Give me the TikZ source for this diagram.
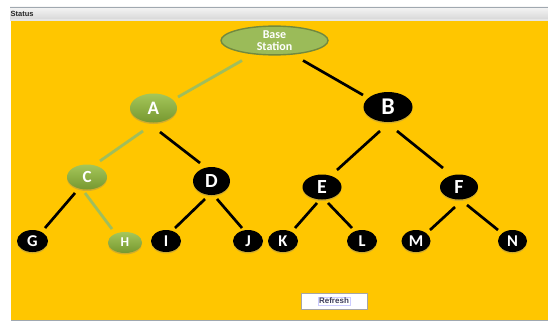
\documentclass[tikz,border=0pt]{standalone}
\usepackage{fontspec}
\setmainfont{Carlito}
\newfontfamily\uifont{Liberation Sans}
\usetikzlibrary{shapes.geometric,shadows,calc}
\definecolor{bgyellow}{RGB}{255,198,0}
\definecolor{gnode}{RGB}{155,187,89}
\definecolor{gnodetop}{RGB}{165,198,90}
\definecolor{gnodebot}{RGB}{118,152,48}
\definecolor{gborder}{RGB}{113,137,63}
\definecolor{gedge}{RGB}{160,190,92}
\definecolor{barline}{RGB}{160,168,176}
\tikzset{
  gnodestyle/.style={ellipse, inner sep=0pt, top color=gnodetop, bottom color=gnodebot,
     text=white, font=\bfseries, drop shadow={shadow xshift=0pt, shadow yshift=-1.5pt, opacity=0.35}},
  bnodestyle/.style={ellipse, inner sep=0pt, fill=black, text=white, font=\bfseries,
     drop shadow={shadow xshift=0pt, shadow yshift=-1.5pt, opacity=0.35}},
  bedge/.style={line width=2.7pt, black, line cap=butt},
  gedgestyle/.style={line width=2.8pt, gedge, line cap=butt},
}
\begin{document}
\begin{tikzpicture}[x=1pt,y=-1pt]
\useasboundingbox (0,0) rectangle (548,321);
\fill[white] (0,0) rectangle (548,321);
% status bar
\shade[top color=white!96!black, bottom color=white!84!black] (10,7) rectangle (548,20);
\draw[barline, line width=1pt] (10,7.5) -- (548,7.5);
\fill[white!90!black] (10,19.5) rectangle (548,21);
\node[anchor=west, inner sep=0pt, font=\uifont\bfseries\fontsize{7.5}{8}\selectfont, text=black!85] (status) at (10.5,13.5) {Status};
% yellow panel
\fill[bgyellow] (11,21) rectangle (548,319.5);
\fill[barline] (11,319.5) rectangle (548,321);

% nodes
\node[ellipse, inner sep=0pt, minimum width=107pt, minimum height=26pt, fill=gnode, draw=gborder, line width=1.4pt,
      text=white, font=\bfseries\fontsize{12}{12.5}\selectfont, align=center] (base) at (274.5,40.5) {Base\\Station};
\node[gnodestyle, minimum width=47pt, minimum height=29pt, font=\bfseries\fontsize{19}{19}\selectfont] (A) at (153.5,108) {A};
\node[bnodestyle, minimum width=49pt, minimum height=30pt, font=\bfseries\fontsize{24}{24}\selectfont] (B) at (388,107) {B};
\node[gnodestyle, minimum width=40pt, minimum height=25pt, font=\bfseries\fontsize{17}{17}\selectfont] (C) at (87,177) {C};
\node[bnodestyle, minimum width=37pt, minimum height=28pt, font=\bfseries\fontsize{20}{20}\selectfont] (D) at (211.5,181) {D};
\node[bnodestyle, minimum width=39pt, minimum height=25pt, font=\bfseries\fontsize{20}{20}\selectfont] (E) at (322,187) {E};
\node[bnodestyle, minimum width=38pt, minimum height=25pt, font=\bfseries\fontsize{20}{20}\selectfont] (F) at (459,187) {F};
\node[bnodestyle, minimum width=31pt, minimum height=22pt, font=\bfseries\fontsize{16.5}{16.5}\selectfont] (G) at (32.5,241) {G};
\node[gnodestyle, minimum width=34pt, minimum height=21pt, font=\bfseries\fontsize{13.5}{13.5}\selectfont] (H) at (125,242.5) {H};
\node[bnodestyle, minimum width=30pt, minimum height=22pt, font=\bfseries\fontsize{16.5}{16.5}\selectfont] (I) at (166,241) {I};
\node[bnodestyle, minimum width=30pt, minimum height=22pt, font=\bfseries\fontsize{16.5}{16.5}\selectfont] (J) at (248,241) {J};
\node[bnodestyle, minimum width=30pt, minimum height=22pt, font=\bfseries\fontsize{16.5}{16.5}\selectfont] (K) at (283,241) {K};
\node[bnodestyle, minimum width=30pt, minimum height=22pt, font=\bfseries\fontsize{16.5}{16.5}\selectfont] (L) at (362,241) {L};
\node[bnodestyle, minimum width=29pt, minimum height=22pt, font=\bfseries\fontsize{16.5}{16.5}\selectfont] (M) at (416,241) {M};
\node[bnodestyle, minimum width=29pt, minimum height=22pt, font=\bfseries\fontsize{16.5}{16.5}\selectfont] (N) at (512.5,241) {N};

% connectors
\draw[gedgestyle] ($(base)+(-32.5,20)$) -- ($(A)+(24.5,-11)$);
\draw[bedge] ($(base)+(28.5,20)$) -- ($(B)+(-25,-12)$);
\draw[gedgestyle] ($(A)+(-10.5,23)$) -- ($(C)+(13,-16)$);
\draw[bedge] ($(A)+(6.5,24)$) -- ($(D)+(-11.5,-18)$);
\draw[bedge] ($(B)+(-8,24)$) -- ($(E)+(15,-17)$);
\draw[bedge] ($(B)+(9,24)$) -- ($(F)+(-16,-19)$);
\draw[bedge] ($(C)+(-12,16)$) -- ($(G)+(12.5,-13)$);
\draw[gedgestyle] ($(C)+(-2,16)$) -- ($(H)+(-13,-13.5)$);
\draw[bedge] ($(D)+(-6.5,18)$) -- ($(I)+(9,-13)$);
\draw[bedge] ($(D)+(5.5,18)$) -- ($(J)+(-6,-13)$);
\draw[bedge] ($(E)+(-5,16)$) -- ($(K)+(12,-13)$);
\draw[bedge] ($(E)+(6,16)$) -- ($(L)+(-10,-13)$);
\draw[bedge] ($(F)+(-4,20)$) -- ($(M)+(14,-11)$);
\draw[bedge] ($(F)+(8,18)$) -- ($(N)+(-14.5,-11)$);

% refresh button
\node[draw=black!35, fill=white, line width=0.8pt, minimum width=66pt, minimum height=16pt, inner sep=0pt] (btn) at (334,301) {};
\node[draw=blue!20, line width=0.5pt, inner sep=1pt, font=\uifont\bfseries\fontsize{8}{8}\selectfont, text={rgb,255:red,60;green,60;blue,90}] (btnlabel) at (btn) {Refresh};
\end{tikzpicture}
\end{document}
